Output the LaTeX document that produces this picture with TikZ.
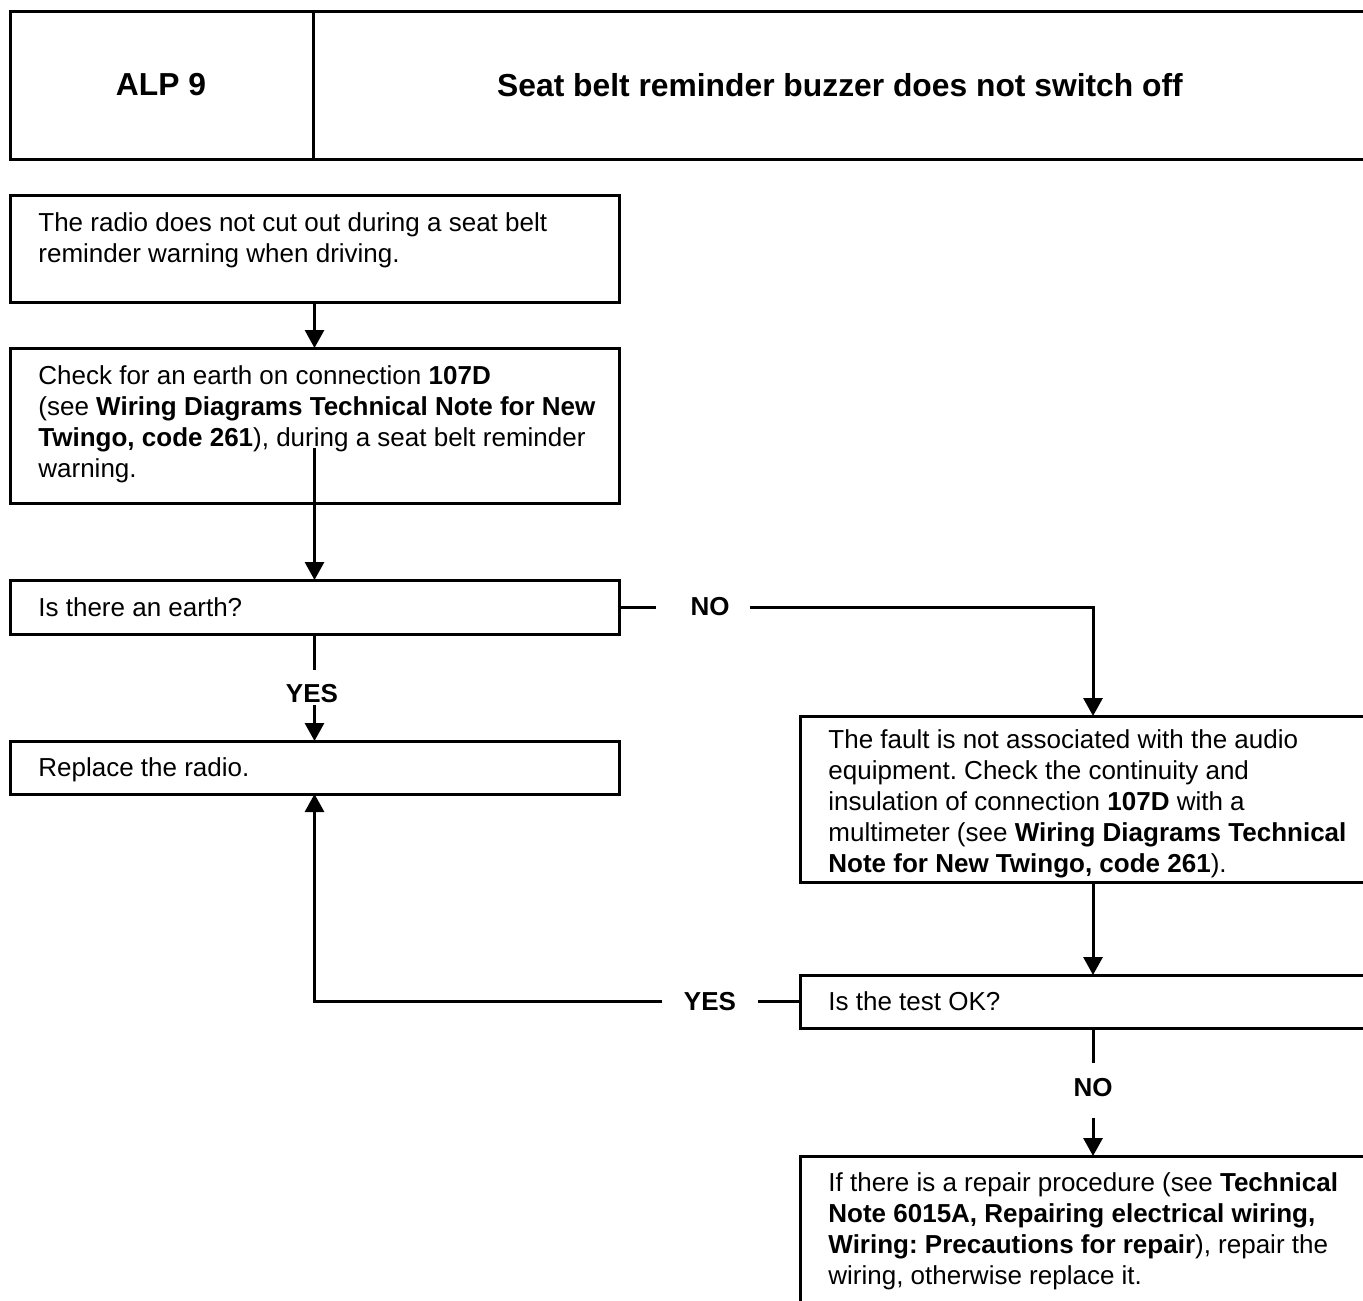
\documentclass[tikz,border=0pt]{standalone}
\usepackage{fontspec}
\setmainfont{Liberation Sans}
\usetikzlibrary{arrows.meta,calc}
\begin{document}
\frenchspacing
\begin{tikzpicture}[x=0.5pt,y=-0.5pt,
  boxstyle/.style={draw, line width=1.5pt, anchor=north west, inner sep=0pt, outer sep=0pt},
  bodytext/.style={anchor=north west, inner sep=0pt, align=left, font=\fontsize{13}{15.5}\selectfont\frenchspacing},
  lbl/.style={inner sep=0pt, font=\fontsize{13}{15.5}\selectfont\bfseries},
  titletext/.style={inner sep=0pt, font=\fontsize{15.9}{19}\selectfont\bfseries},
  link/.style={line width=1.5pt},
  arr/.style={line width=1.5pt, -{Triangle[length=9pt,width=9.5pt]}}]
\useasboundingbox (0,0) rectangle (1363,1300);
\clip (0,0) rectangle (1363,1300);

% header
\node[boxstyle, minimum width=695pt, minimum height=74pt] (hdr) at (10,12) {};
\draw[link] ($(hdr.north west)+(303,-2)$) -- ($(hdr.south west)+(303,0)$);
\node[titletext] (alp) at (161,85) {ALP 9};
\node[titletext] (ttl) at (840,85) {Seat belt reminder buzzer does not switch off};

% boxes
\node[boxstyle, minimum width=304.5pt, minimum height=53pt] (b1) at (10,196) {};
\node[boxstyle, minimum width=304.5pt, minimum height=77.5pt] (b2) at (10,348) {};
\node[boxstyle, minimum width=304.5pt, minimum height=27pt] (b3) at (10,580) {};
\node[boxstyle, minimum width=304.5pt, minimum height=26.5pt] (b5) at (10,741) {};
\node[boxstyle, minimum width=300pt, minimum height=83pt] (b4) at (800,716) {};
\node[boxstyle, minimum width=300pt, minimum height=26.5pt] (b6) at (800,975) {};
\node[boxstyle, minimum width=300pt, minimum height=100pt] (b7) at (800,1156) {};

% texts
\node[bodytext] (t1) at (38,209.3) {\strut The radio does not cut out during a seat belt\\reminder warning when driving.};
\node[bodytext] (t2) at (38,362.3) {\strut Check for an earth on connection \textbf{107D}\\(see \textbf{Wiring Diagrams Technical Note for New}\\\textbf{Twingo, code 261}), during a seat belt reminder\\warning.};
\node[bodytext] (t3) at (38,594.3) {\strut Is there an earth?};
\node[bodytext] (t5) at (38,754.3) {\strut Replace the radio.};
\node[bodytext] (t4) at (828,726.3) {\strut The fault is not associated with the audio\\equipment. Check the continuity and\\insulation of connection \textbf{107D} with a\\multimeter (see \textbf{Wiring Diagrams Technical}\\\textbf{Note for New Twingo, code 261}).};
\node[bodytext] (t6) at (828,988.3) {\strut Is the test OK?};
\node[bodytext] (t7) at (828,1169.3) {\strut If there is a repair procedure (see \textbf{Technical}\\\textbf{Note 6015A, Repairing electrical wiring,}\\\textbf{Wiring: Precautions for repair}), repair the\\wiring, otherwise replace it.};

% labels
\node[lbl] (yes1) at (312,694) {YES};
\node[lbl] (no1) at (710,607) {NO};
\node[lbl] (yes2) at (710,1001.5) {YES};
\node[lbl] (no2) at (1093,1088) {NO};
\coordinate (c2) at (314.5,448);
\coordinate (n1) at (1093,607);

% connectors
\draw[arr] (b1.south) -- (b2.north);
\draw[arr] (c2) -- (b3.north);
\draw[link] (b3.south) -- ++(0,36);
\draw[arr] ($(b3.south)+(0,71)$) -- (b5.north);
\draw[link] (b3.east) -- ($(no1.west)+(-34,0)$ |- b3.east);
\draw[arr] ($(no1.east)+(20,0)$ |- b3.east) -- (n1) -- (n1 |- b4.north);
\draw[arr] (b4.south -| n1) -- (b6.north -| n1);
\draw[link] (b6.west) -- ($(yes2.east)+(22,0)$ |- b6.west);
\draw[arr] ($(yes2.west)+(-22,0)$ |- b6.west) -- (b5.south |- b6.west) -- (b5.south);
\draw[link] (b6.south -| n1) -- ($(no2.north)+(0,-15)$);
\draw[arr] ($(no2.south)+(0,20)$) -- (b7.north -| n1);
\end{tikzpicture}
\end{document}
